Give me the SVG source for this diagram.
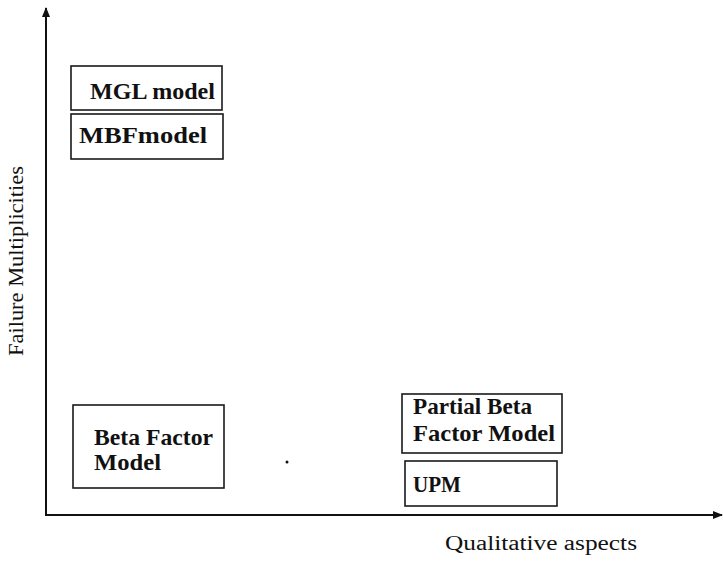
<svg xmlns="http://www.w3.org/2000/svg" width="723" height="561" viewBox="0 0 723 561">
<defs>
<style>
.box{fill:#fff;stroke:#1a1a1a;stroke-width:1.6}
.lbl{font-family:"Liberation Serif","Times New Roman",serif;font-weight:bold;font-size:23px;fill:#111}
.ax{font-family:"Liberation Serif","Times New Roman",serif;font-size:20px;fill:#111}
.axis{stroke:#111;stroke-width:2;fill:none}
</style>
<marker id="ah" viewBox="0 0 10 10" refX="9" refY="5" markerWidth="10" markerHeight="10" markerUnits="userSpaceOnUse" orient="auto">
<path d="M0,1 L10,5 L0,9 Z" fill="#111"/>
</marker>
</defs>
<rect width="723" height="561" fill="#fff"/>
<g id="connectors">
<line class="axis" x1="46" y1="516" x2="46" y2="8" marker-end="url(#ah)"/>
<line class="axis" x1="45" y1="515" x2="722" y2="515" marker-end="url(#ah)"/>
</g>
<g id="mgl">
<rect class="box" x="71" y="66" width="151" height="44"/>
<text class="lbl" x="90" y="99" textLength="125" lengthAdjust="spacingAndGlyphs">MGL model</text>
</g>
<g id="mbf">
<rect class="box" x="71" y="114" width="152" height="45"/>
<text class="lbl" x="79" y="143" textLength="128" lengthAdjust="spacingAndGlyphs">MBFmodel</text>
</g>
<g id="beta">
<rect class="box" x="73" y="405" width="151" height="83"/>
<text class="lbl" x="94" y="445" textLength="119" lengthAdjust="spacingAndGlyphs">Beta Factor</text>
<text class="lbl" x="94" y="470" textLength="67" lengthAdjust="spacingAndGlyphs">Model</text>
</g>
<g id="partial">
<rect class="box" x="402" y="394" width="160" height="59"/>
<text class="lbl" x="413" y="414" textLength="119" lengthAdjust="spacingAndGlyphs">Partial Beta</text>
<text class="lbl" x="413" y="441" textLength="142" lengthAdjust="spacingAndGlyphs">Factor Model</text>
</g>
<g id="upm">
<rect class="box" x="405" y="461" width="152" height="45"/>
<text class="lbl" x="413" y="492" textLength="48" lengthAdjust="spacingAndGlyphs">UPM</text>
</g>
<text class="ax" x="445" y="550" textLength="192" lengthAdjust="spacingAndGlyphs">Qualitative aspects</text>
<text class="ax" transform="translate(23,356) rotate(-90)" x="0" y="0" textLength="190" lengthAdjust="spacingAndGlyphs">Failure Multiplicities</text>
<circle cx="287" cy="462" r="1.5" fill="#111"/>
</svg>
